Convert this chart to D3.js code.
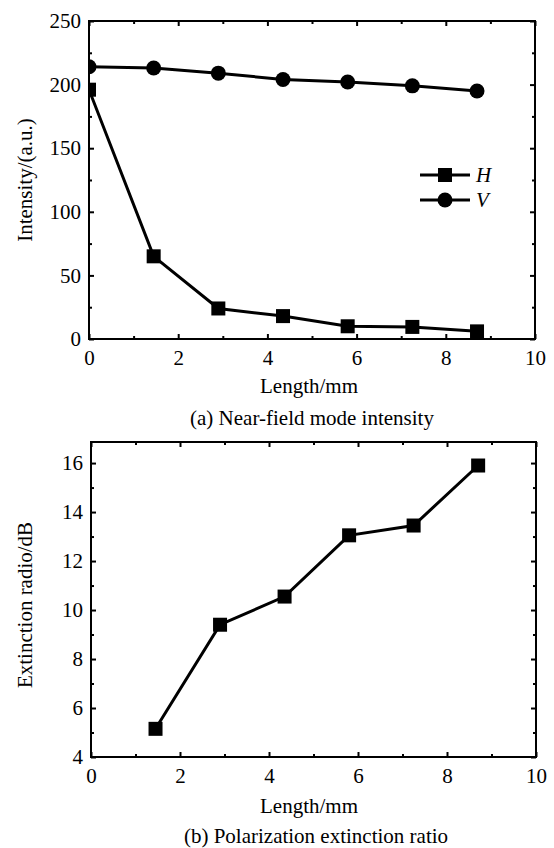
<!DOCTYPE html>
<html>
<head>
<meta charset="utf-8">
<script src="https://cdn.jsdelivr.net/npm/d3@7"></script>
<style>
  body { margin: 0; background: #fff; }
  svg text { font-family: "Liberation Serif", "Times New Roman", serif !important; fill: #000; }
</style>
</head>
<body>
<svg id="chart"></svg>
<script>
// data
const lengths = [0, 1.45, 2.9, 4.35, 5.8, 7.25, 8.7]
const intensityH = [196, 65, 24, 18, 10, 9.5, 6]
const intensityV = [214, 213, 209, 204, 202, 199, 195]
const ratioLengths = [1.45, 2.9, 4.35, 5.8, 7.25, 8.7]
const extinction = [5.15, 9.4, 10.55, 13.05, 13.45, 15.9]

const xMajor = [0, 2, 4, 6, 8, 10]
const xMinor = [1, 3, 5, 7, 9]
const yMajorA = [0, 50, 100, 150, 200, 250]
const yMinorA = [25, 75, 125, 175, 225]
const yMajorB = [4, 6, 8, 10, 12, 14, 16]
const yMinorB = [5, 7, 9, 11, 13, 15]

const serif = '"Liberation Serif", "Times New Roman", serif'
let svg = d3.select("#chart").attr("width", 554).attr("height", 848)
    .attr("font-family", serif)
const fs = 21

function translate(x, y) { return "translate(" + x + "," + y + ")" }

function panel(id, box, yDomain, yMajor, yMinor, yLabel, caption, layout) {
    let x = d3.scaleLinear().domain([0, 10]).range([box.left, box.right])
    let y = d3.scaleLinear().domain(yDomain).range([box.bottom, box.top])
    let g = svg.append("g")

    svg.append("clipPath").attr("id", id)
        .append("rect")
        .attr("x", box.left).attr("y", box.top)
        .attr("width", box.right - box.left).attr("height", box.bottom - box.top)

    function ticks(axisFn, scale, vals, size, pos, labels, pad) {
        let a = axisFn(scale).tickValues(vals).tickSizeInner(-size).tickSizeOuter(0).tickPadding(pad || 0)
        if (!labels) a.tickFormat("")
        let ax = g.append("g").attr("transform", pos).call(a)
            .attr("font-family", serif).attr("font-size", fs)
        ax.select(".domain").remove()
        ax.selectAll("line").attr("stroke", "#000").attr("stroke-width", 2)
        ax.selectAll("text").style("font-family", serif).style("font-size", fs + "px").attr("fill", "#000")
        return ax
    }
    // bottom / top
    ticks(d3.axisBottom, x, xMajor, 5, translate(0, box.bottom), true, 11)
    ticks(d3.axisBottom, x, xMinor, 3, translate(0, box.bottom), false)
    ticks(d3.axisTop, x, xMajor, 5, translate(0, box.top), false)
    ticks(d3.axisTop, x, xMinor, 3, translate(0, box.top), false)
    // left / right
    ticks(d3.axisLeft, y, yMajor, 5, translate(box.left, 0), true, 8)
    ticks(d3.axisLeft, y, yMinor, 3, translate(box.left, 0), false)
    ticks(d3.axisRight, y, yMajor, 5, translate(box.right, 0), false)
    ticks(d3.axisRight, y, yMinor, 3, translate(box.right, 0), false)

    g.append("rect")
        .attr("x", box.left).attr("y", box.top)
        .attr("width", box.right - box.left).attr("height", box.bottom - box.top)
        .attr("fill", "none").attr("stroke", "#000").attr("stroke-width", 2)

    g.append("text")
        .attr("x", 309).attr("y", box.bottom + layout.titleDy)
        .attr("text-anchor", "middle").style("font-size", fs + "px")
        .text("Length/mm")
    g.append("text")
        .attr("x", layout.capX).attr("y", box.bottom + layout.capDy)
        .attr("text-anchor", "middle").style("font-size", fs + "px")
        .text(caption)
    g.append("text")
        .attr("transform", translate(32, layout.yLabelY) + " rotate(-90)")
        .attr("text-anchor", "middle").style("font-size", fs + "px")
        .text(yLabel)
    let plot = g.append("g").attr("clip-path", "url(#" + id + ")")
    return {x: x, y: y, g: g, plot: plot}
}

function drawSeries(p, xs, ys, shape) {
    let pts = xs.map((d, i) => [p.x(d), p.y(ys[i])])
    p.plot.append("path")
        .attr("d", d3.line()(pts))
        .attr("fill", "none").attr("stroke", "#000").attr("stroke-width", 3)
    if (shape == "square") {
        p.plot.selectAll(null).data(pts).enter().append("rect")
            .attr("x", d => d[0] - 7).attr("y", d => d[1] - 7)
            .attr("width", 14).attr("height", 14).attr("fill", "#000")
    } else {
        p.plot.selectAll(null).data(pts).enter().append("circle")
            .attr("cx", d => d[0]).attr("cy", d => d[1]).attr("r", 7.5).attr("fill", "#000")
    }
}

let a = panel("clipA", {left: 89, right: 535, top: 21, bottom: 339}, [0, 250], yMajorA, yMinorA,
    "Intensity/(a.u.)", "(a) Near-field mode intensity",
    {titleDy: 54, capDy: 86, capX: 312, yLabelY: 180})
drawSeries(a, lengths, intensityV, "circle")
drawSeries(a, lengths, intensityH, "square")

// legend
const legend = [{name: "H", shape: "square"}, {name: "V", shape: "circle"}]
let lg = a.g.selectAll(".lg").data(legend).enter().append("g")
    .attr("transform", (d, i) => translate(420, 175 + i * 25))
lg.append("line").attr("x1", 0).attr("x2", 50).attr("stroke", "#000").attr("stroke-width", 3)
lg.filter(d => d.shape == "square").append("rect")
    .attr("x", 18).attr("y", -7).attr("width", 14).attr("height", 14).attr("fill", "#000")
lg.filter(d => d.shape == "circle").append("circle")
    .attr("cx", 25).attr("r", 7.5).attr("fill", "#000")
lg.append("text").attr("x", 56).attr("y", 7)
    .style("font-size", fs + "px").style("font-style", "italic")
    .text(d => d.name)

let b = panel("clipB", {left: 91, right: 536, top: 442, bottom: 757}, [4, 16.86], yMajorB, yMinorB,
    "Extinction radio/dB", "(b) Polarization extinction ratio",
    {titleDy: 56, capDy: 86, capX: 316, yLabelY: 605})
drawSeries(b, ratioLengths, extinction, "square")
</script>
</body>
</html>
